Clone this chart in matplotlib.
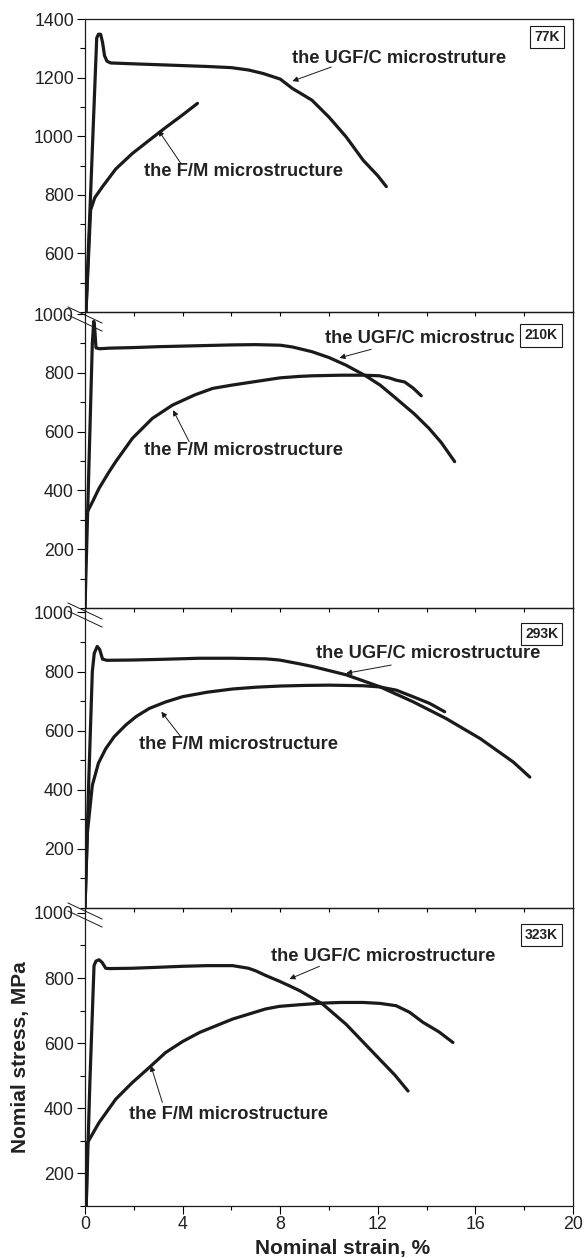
import matplotlib
matplotlib.use("Agg")
import matplotlib.pyplot as plt
from matplotlib.ticker import MultipleLocator
from matplotlib.lines import Line2D

plt.rcParams['font.family'] = ['Liberation Sans', 'DejaVu Sans']

# ---- data (strain %, stress MPa) ----
# 77K
ugf_77_x = [0.03, 0.48, 0.55, 0.64, 0.72, 0.8, 0.9, 1.05, 2.0, 3.0, 4.0, 5.0, 6.0, 6.7, 7.3,
            8.0, 8.5, 9.3, 10.0, 10.7, 11.4, 12.0, 12.35]
ugf_77_y = [380, 1335, 1348, 1348, 1320, 1275, 1256, 1250, 1247, 1244, 1241, 1238, 1234, 1226, 1214,
            1195, 1163, 1123, 1065, 998, 918, 865, 828]
fm_77_x = [0.03, 0.23, 0.4, 0.71, 1.26, 1.94, 2.63, 3.31, 3.99, 4.61]
fm_77_y = [380, 748, 790, 827, 888, 941, 986, 1030, 1072, 1112]

# 210K
ugf_210_x = [0.0, 0.3, 0.36, 0.4, 0.45, 0.6, 1.0, 2.0, 3.0, 4.0, 5.0, 6.0, 7.0, 8.0, 8.5, 9.3,
             10.0, 10.7, 11.5, 12.1, 12.75, 13.5, 14.1, 14.6, 15.15]
ugf_210_y = [0, 900, 975, 950, 885, 882, 884, 886, 889, 891, 893, 895, 896, 894, 888, 872,
             852, 826, 790, 758, 713, 660, 611, 563, 498]
fm_210_x = [0.0, 0.03, 0.3, 0.575, 1.0, 1.26, 1.94, 2.76, 3.58, 4.5, 5.23, 6.0, 6.87, 8.0, 8.8,
            9.33, 10.5, 11.4, 12.07, 12.5, 12.75, 13.1, 13.45, 13.78]
fm_210_y = [0, 316, 360, 407, 465, 498, 577, 645, 690, 725, 747, 758, 769, 783, 788,
            790, 792, 792, 790, 782, 775, 769, 748, 722]

# 293K
ugf_293_x = [0.0, 0.15, 0.3, 0.38, 0.5, 0.6, 0.72, 0.9, 1.94, 3.0, 4.7, 6.0, 7.4, 7.97, 8.8,
             9.33, 10.7, 12.07, 13.44, 14.8, 16.2, 17.55, 18.23]
ugf_293_y = [0, 420, 800, 862, 885, 875, 842, 838, 839, 841, 845, 845, 843, 839, 826,
             817, 789, 749, 698, 641, 573, 494, 443]
fm_293_x = [0.0, 0.1, 0.3, 0.55, 0.85, 1.2, 1.67, 2.1, 2.63, 3.3, 4.0, 5.0, 6.05, 7.0, 8.0,
            9.0, 10.0, 11.4, 12.07, 12.76, 13.44, 14.13, 14.74]
fm_293_y = [0, 256, 415, 490, 539, 580, 619, 648, 675, 697, 715, 730, 741, 747, 751,
            753, 754, 752, 748, 737, 715, 692, 664]

# 323K
ugf_323_x = [0.05, 0.2, 0.37, 0.45, 0.575, 0.7, 0.85, 1.0, 1.94, 3.0, 4.0, 5.0, 6.05, 6.7, 7.0,
             7.4, 7.97, 8.38, 8.8, 9.74, 10.7, 12.07, 12.7, 13.24]
ugf_323_y = [100, 480, 838, 852, 856, 848, 830, 829, 830, 833, 836, 838, 838, 830, 822,
             808, 790, 776, 761, 720, 658, 551, 502, 453]
fm_323_x = [0.05, 0.1, 0.575, 1.26, 1.94, 2.63, 3.3, 4.0, 4.7, 6.05, 7.4, 7.97, 8.8, 9.74, 10.5,
            11.4, 12.1, 12.75, 13.3, 13.85, 14.5, 15.08]
fm_323_y = [100, 294, 356, 428, 479, 525, 571, 605, 633, 674, 705, 713, 718, 723, 725,
            725, 722, 715, 695, 664, 635, 602]

temps = ['77K', '210K', '293K', '323K']
ugf_labels = ['the UGF/C microstruture', 'the UGF/C microstruc',
              'the UGF/C microstructure', 'the UGF/C microstructure']
fm_label = 'the F/M microstructure'
ylims = [(400, 1400), (0, 1007), (0, 1015), (100, 1015)]
yticks = [[600, 800, 1000, 1200, 1400], [200, 400, 600, 800, 1000],
          [200, 400, 600, 800, 1000], [200, 400, 600, 800, 1000]]

curves = [(ugf_77_x, ugf_77_y, fm_77_x, fm_77_y),
          (ugf_210_x, ugf_210_y, fm_210_x, fm_210_y),
          (ugf_293_x, ugf_293_y, fm_293_x, fm_293_y),
          (ugf_323_x, ugf_323_y, fm_323_x, fm_323_y)]

# text / arrow placement: (text x, text y, arrow from, arrow to)
ugf_notes = [(8.5, 1266, (10.09, 1236), (8.5, 1188)),
             (9.82, 917, (11.73, 880), (10.43, 851)),
             (9.47, 862, (12.55, 822), (10.7, 794)),
             (7.63, 865, (9.61, 836), (8.38, 797))]
fm_notes = [(2.42, 878, (3.93, 907), (3.01, 1020)),
            (2.42, 536, (4.27, 566), (3.61, 673)),
            (2.22, 554, (3.93, 579), (3.13, 664)),
            (1.81, 382, (3.17, 418), (2.7, 531))]
box_pos = [(0.946, 0.939), (0.934, 0.921), (0.936, 0.913), (0.935, 0.909)]

W, H = 585, 1258
fig = plt.figure(figsize=(W / 100, H / 100), dpi=100)

# panel edges in pixels
left_px, right_px = 85, 573
edges = [19, 312, 608, 908, 1206]
ink = '#1a1a1a'
txt = '#222222'

axes = []
for i in range(4):
    top, bot = edges[i], edges[i + 1]
    ax = fig.add_axes([left_px / W, 1 - bot / H, (right_px - left_px) / W, (bot - top) / H])
    ax.patch.set_visible(False)
    ux, uy, fx, fy = curves[i]
    ax.plot(ux, uy, color=ink, lw=2.3, solid_capstyle='round', solid_joinstyle='round')
    ax.plot(fx, fy, color=ink, lw=2.3, solid_capstyle='round', solid_joinstyle='round')

    ax.set_xlim(0, 20)
    ax.set_ylim(*ylims[i])
    ax.set_yticks(yticks[i])
    ax.yaxis.set_minor_locator(MultipleLocator(100))
    ax.tick_params(axis='y', which='major', direction='out', length=6, width=0.8,
                   labelsize=12.8, labelcolor=txt, pad=2)
    ax.tick_params(axis='y', which='minor', direction='out', length=3.5, width=0.8)
    for s in ax.spines.values():
        s.set_linewidth(0.9)
        s.set_color(ink)

    if i < 3:
        ax.set_xticks(range(0, 21, 2))
        ax.tick_params(axis='x', which='major', direction='out', length=3, width=0.8,
                       labelbottom=False)
    else:
        ax.set_xticks(range(0, 21, 4))
        ax.xaxis.set_minor_locator(MultipleLocator(2))
        ax.tick_params(axis='x', which='major', direction='out', length=5.5, width=0.8,
                       labelsize=12.8, labelcolor=txt, pad=2)
        ax.tick_params(axis='x', which='minor', direction='out', length=3, width=0.8)
        ax.set_xlabel('Nominal strain, %', fontsize=15, fontweight='bold', color=txt)
        ax.xaxis.set_label_coords(0.527, -0.11)
        ax.set_ylabel('Nomial stress, MPa', fontsize=15, fontweight='bold', color=txt,
                      labelpad=3)

    tx, ty, a0, a1 = ugf_notes[i]
    ax.text(tx, ty, ugf_labels[i], fontsize=13.2, fontweight='bold', color=txt,
            ha='left', va='center')
    ax.annotate('', xy=a1, xytext=a0,
                arrowprops=dict(arrowstyle='-|>', lw=0.7, color=ink, mutation_scale=8,
                                shrinkA=0, shrinkB=0))
    tx, ty, a0, a1 = fm_notes[i]
    ax.text(tx, ty, fm_label, fontsize=13.2, fontweight='bold', color=txt,
            ha='left', va='center')
    ax.annotate('', xy=a1, xytext=a0,
                arrowprops=dict(arrowstyle='-|>', lw=0.7, color=ink, mutation_scale=8,
                                shrinkA=0, shrinkB=0))

    bx, by = box_pos[i]
    ax.text(bx, by, temps[i], transform=ax.transAxes, fontsize=10, fontweight='bold',
            color=txt, ha='center', va='center', zorder=5,
            bbox=dict(boxstyle='square,pad=0.3', fc='white', ec=ink, lw=0.8))
    axes.append(ax)

# axis-break marks on the left spine at each panel joint
for yb in edges[1:4]:
    for dy in (3, 11):
        y0 = yb + dy - 8
        y1 = yb + dy + 8
        fig.add_artist(Line2D([68 / W, 102 / W], [1 - y0 / H, 1 - y1 / H],
                              transform=fig.transFigure, color=ink, lw=0.7))

fig.savefig('out.png', dpi=100, facecolor='white')
